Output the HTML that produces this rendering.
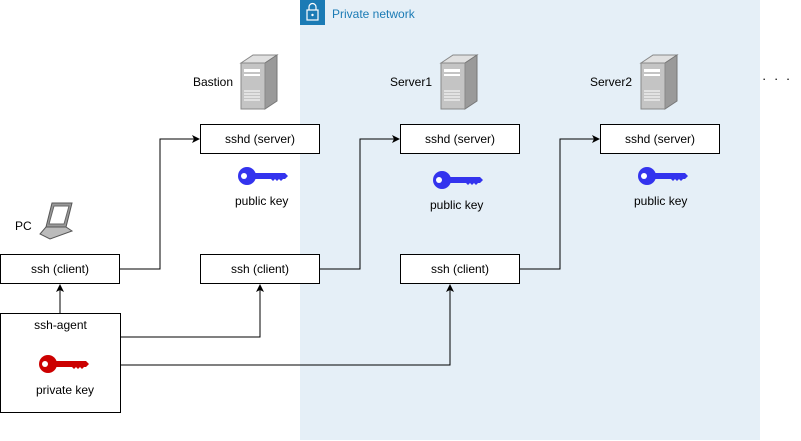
<!DOCTYPE html>
<html><head><style>
body{margin:0;width:801px;height:441px;background:#fff;font-family:"Liberation Sans",Arial,sans-serif;font-size:12px;position:relative;overflow:hidden}
.b{position:absolute;border:1px solid #000;background:#fff;box-sizing:border-box;text-align:center;line-height:28px;color:#000}
.t{position:absolute;color:#000;white-space:nowrap}
</style></head><body>
<div style="position:absolute;left:300px;top:0;width:460px;height:440px;background:#e5eff7"></div>
<div style="position:absolute;left:300px;top:0;width:25px;height:25px;background:#1b7bb5"></div>
<svg style="position:absolute;left:300px;top:0" width="25" height="25"><rect x="7" y="10" width="11" height="10" fill="none" stroke="#fff" stroke-width="1.2"/><path d="M9 10V7a3.5 3.5 0 0 1 7 0v3" fill="none" stroke="#fff" stroke-width="1.2"/><circle cx="12.5" cy="15" r="1.2" fill="#fff"/></svg>
<div class="t" style="left:332px;top:7px;color:#1b7bb5">Private network</div>

<svg style="position:absolute;left:0;top:0" width="801" height="441">
<defs><marker id="a" markerWidth="8" markerHeight="8" refX="7" refY="4" orient="auto" markerUnits="userSpaceOnUse"><path d="M0 0L8 4L0 8L2 4z" fill="#000"/></marker>
<g id="srv"><path d="M0 8L12 0H36L24 8z" fill="#e0e0e0" stroke="#888"/><path d="M24 8L36 0V46L24 54z" fill="#9a9a9a" stroke="#777"/><rect x="0" y="8" width="24" height="46" fill="#c4c4c4" stroke="#888"/><rect x="3" y="14" width="16" height="3" fill="#fff"/><rect x="3" y="19" width="16" height="2" fill="#fff"/><g stroke="#fff"><line x1="3" y1="36" x2="19" y2="36"/><line x1="3" y1="39" x2="19" y2="39"/><line x1="3" y1="42" x2="19" y2="42"/><line x1="3" y1="45" x2="19" y2="45"/></g></g>
<g id="key"><circle cx="10" cy="9" r="9"/><circle cx="7" cy="9" r="3" fill="#fff"/><path d="M16 6H48L51 9L48 12H46L44 14L42 12L40 14L38 12L36 14L34 12H16z"/></g></defs>
<g fill="none" stroke="#000" stroke-width="1">
<path d="M120 269H160V139H199" marker-end="url(#a)"/>
<path d="M320 269H360V139H399" marker-end="url(#a)"/>
<path d="M520 269H560V139H599" marker-end="url(#a)"/>
<path d="M120 337H260V285" marker-end="url(#a)"/>
<path d="M120 365H450V285" marker-end="url(#a)"/>
<path d="M60 313V285" marker-end="url(#a)"/>
</g>
<use href="#srv" x="241" y="55"/><use href="#srv" x="441" y="55"/><use href="#srv" x="641" y="55"/>
<use href="#key" x="237" y="167" fill="#3333ee"/><use href="#key" x="432" y="171" fill="#3333ee"/><use href="#key" x="637" y="167" fill="#3333ee"/>
<g transform="translate(38,203)"><path d="M14 0H34L28 24H8z" fill="#999" stroke="#555"/><path d="M16 3H31L26 21H11z" fill="#fff" stroke="#666"/><path d="M8 24H28L34 28L12 36L2 31z" fill="#bbb" stroke="#555"/></g>
<text x="762" y="83" font-size="13" font-family="Liberation Sans" letter-spacing="2">· · ·</text>
</svg>

<div class="t" style="left:193px;top:75px">Bastion</div>
<div class="t" style="left:390px;top:75px">Server1</div>
<div class="t" style="left:590px;top:75px">Server2</div>
<div class="t" style="left:15px;top:219px">PC</div>
<div class="b" style="left:200px;top:124px;width:120px;height:30px">sshd (server)</div>
<div class="b" style="left:400px;top:124px;width:120px;height:30px">sshd (server)</div>
<div class="b" style="left:600px;top:124px;width:120px;height:30px">sshd (server)</div>
<div class="b" style="left:0;top:254px;width:120px;height:30px">ssh (client)</div>
<div class="b" style="left:200px;top:254px;width:120px;height:30px">ssh (client)</div>
<div class="b" style="left:400px;top:254px;width:120px;height:30px">ssh (client)</div>
<div class="b" style="left:0;top:313px;width:121px;height:100px;line-height:normal;padding-top:4px">ssh-agent</div>
<svg style="position:absolute;left:38px;top:355px" width="60" height="20"><g fill="#cc0000"><circle cx="10" cy="9" r="9"/><circle cx="7" cy="9" r="3" fill="#fff"/><path d="M16 6H48L51 9L48 12H46L44 14L42 12L40 14L38 12L36 14L34 12H16z"/></g></svg>
<div class="t" style="left:235px;top:194px">public key</div>
<div class="t" style="left:430px;top:198px">public key</div>
<div class="t" style="left:634px;top:194px">public key</div>
<div class="t" style="left:36px;top:383px">private key</div>
</body></html>
